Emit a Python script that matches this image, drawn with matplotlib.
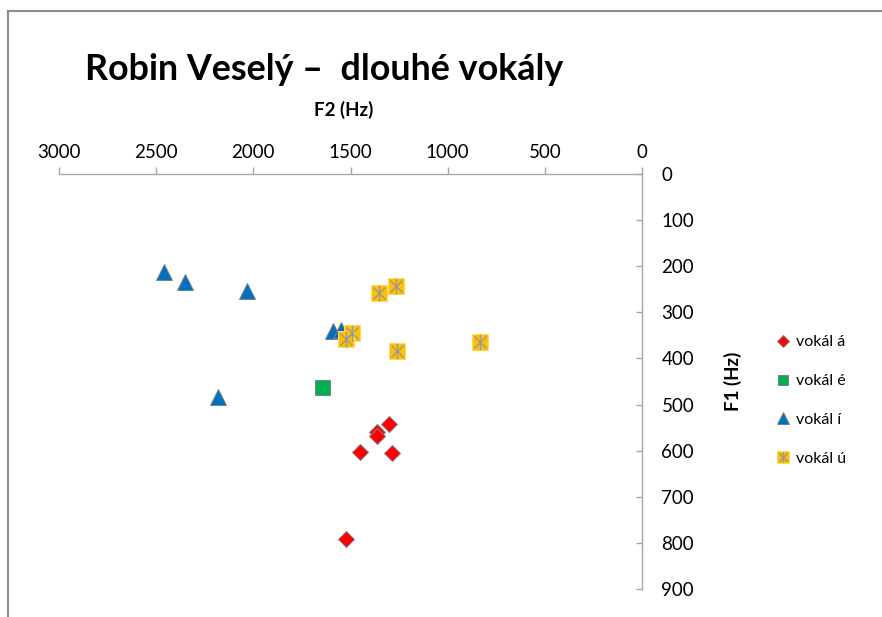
import matplotlib
matplotlib.use('Agg')
import matplotlib.pyplot as plt
from matplotlib.lines import Line2D
from matplotlib.legend_handler import HandlerTuple

plt.rcParams['font.family'] = ['Lato', 'DejaVu Sans']

title = "Robin Veselý –  dlouhé vokály"
x_label = "F2 (Hz)"
y_label = "F1 (Hz)"
series_names = ["vokál á", "vokál é", "vokál í", "vokál ú"]

a_f2 = [1300, 1362, 1362, 1450, 1287, 1523]
a_f1 = [543, 559, 568, 603, 606, 792]
e_f2 = [1647]
e_f1 = [461]
i_f2 = [2458, 2352, 2033, 1589, 1549, 2183]
i_f1 = [212, 235, 254, 341, 338, 483]
u_f2 = [1355, 1264, 1491, 1522, 1259, 834]
u_f1 = [257, 242, 345, 358, 384, 364]

x_ticks = [3000, 2500, 2000, 1500, 1000, 500, 0]
y_ticks = [0, 100, 200, 300, 400, 500, 600, 700, 800, 900]

W, H = 882, 617
fig = plt.figure(figsize=(W / 100, H / 100), dpi=100)
fig.patch.set_facecolor('white')

L, R, T, B = 59, 642, 174, 589
ax = fig.add_axes([L / W, 1 - B / H, (R - L) / W, (B - T) / H])
ax.set_facecolor('none')

edge = '#7f7f7f'
ha, = ax.plot(a_f2, a_f1, ls='none', marker='D', ms=8.2, mfc='#FF0000', mec=edge, mew=0.7)
he, = ax.plot(e_f2, e_f1, ls='none', marker='s', ms=10.8, mfc='#00B050', mec=edge, mew=0.7)
hi, = ax.plot(i_f2, i_f1, ls='none', marker='^', ms=11.5, mfc='#0070C0', mec=edge, mew=0.7)
hu1, = ax.plot(u_f2, u_f1, ls='none', marker='s', ms=11.5, mfc='#FFC000', mec='#FFD966', mew=0.7)
hu2, = ax.plot(u_f2, u_f1, ls='none', marker='x', ms=8.5, mec='#999999', mew=1.0)
hu3, = ax.plot(u_f2, u_f1, ls='none', marker='|', ms=11, mec='#999999', mew=1.0)

ax.set_xlim(3000, 0)
ax.set_ylim(900, 0)
ax.set_xticks(x_ticks)
ax.set_yticks(y_ticks)
ax.xaxis.tick_top()
ax.yaxis.tick_right()
for s in ['left', 'bottom']:
    ax.spines[s].set_visible(False)
for s in ['top', 'right']:
    ax.spines[s].set_color('#a6a6a6')
    ax.spines[s].set_linewidth(1.0)
ax.tick_params(axis='x', direction='out', length=5, width=1, color='#a6a6a6',
               labelsize=13.5, pad=4.5, labelcolor='#000000')
ax.tick_params(axis='y', direction='in', length=4, width=1, color='#a6a6a6',
               labelsize=13.5, pad=14, labelcolor='#000000')

fig.text(85 / W, 1 - 80 / H, title, fontsize=25.8, fontweight='bold', ha='left', va='baseline')
fig.text(344 / W, 1 - 110 / H, x_label, fontsize=13.5, fontweight='bold', ha='center', va='center')
fig.text(733 / W, 1 - 381 / H, y_label, fontsize=13.5, fontweight='bold', ha='center', va='center',
         rotation=90)

handles = [ha, he, hi, (hu1, hu2, hu3)]
fig.legend(handles, series_names, loc='upper left', bbox_to_anchor=(777 / W, 1 - 335 / H),
           frameon=False, fontsize=11.5, markerscale=0.7, handlelength=0.8, handletextpad=0.4,
           labelspacing=1.55, borderpad=0, borderaxespad=0,
           handler_map={tuple: HandlerTuple(ndivide=1, pad=0)})

# outer frame (top and left edges visible)
fig.add_artist(Line2D([8 / W, 8 / W], [0, 1 - 11 / H], color='#8c8c8c', lw=1.5, transform=fig.transFigure))
fig.add_artist(Line2D([8 / W, 1], [1 - 11 / H, 1 - 11 / H], color='#8c8c8c', lw=1.5, transform=fig.transFigure))

fig.savefig('out.png', dpi=100)
